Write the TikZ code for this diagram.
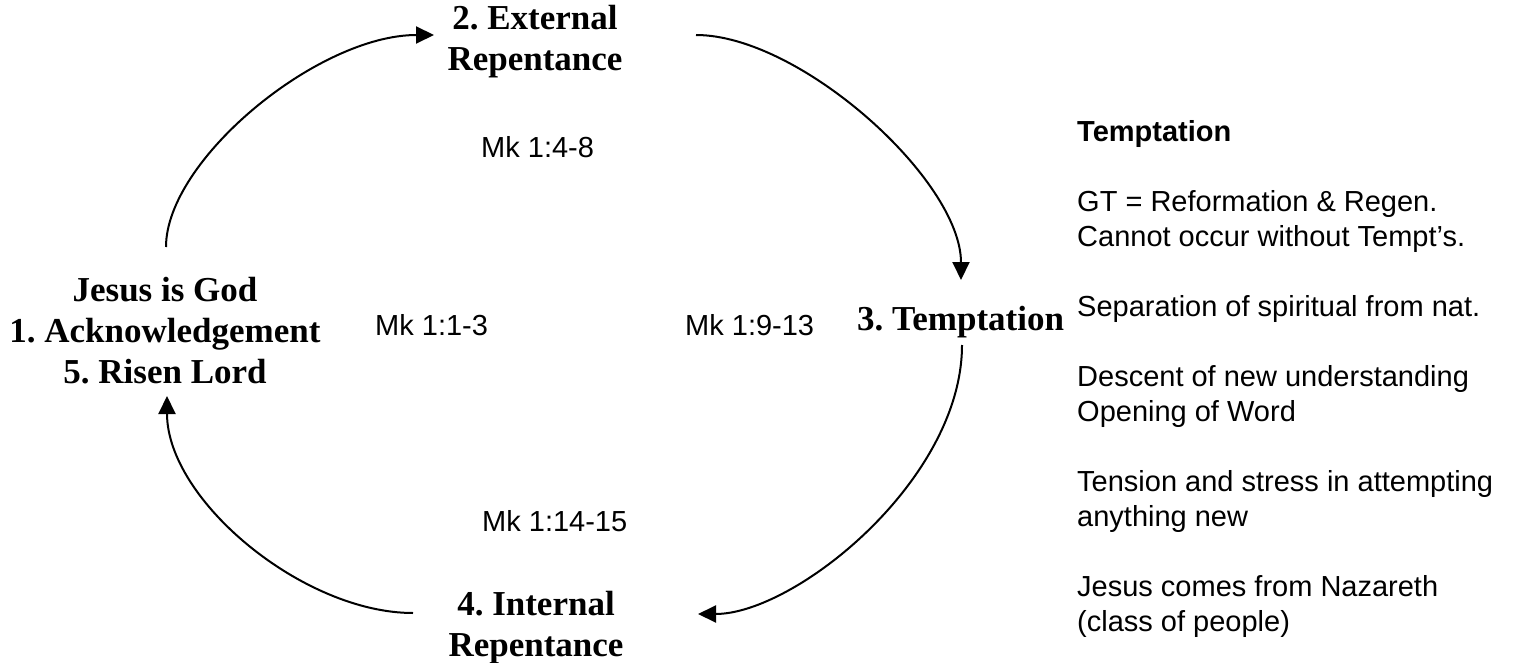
\documentclass[tikz,border=0pt]{standalone}
\usepackage{fontspec}
\setmainfont{Liberation Serif}
\setsansfont{Liberation Sans}
\usetikzlibrary{arrows.meta}
\frenchspacing
\begin{document}
\begin{tikzpicture}[x=1pt,y=-1pt,
  stage/.style={font=\fontsize{35}{41}\selectfont\bfseries, align=center, inner sep=0pt, anchor=base},
  ref/.style={font=\sffamily\fontsize{29}{35}\selectfont, inner sep=0pt, anchor=base west},
  cyc/.style={line width=2pt, -{Triangle[length=18pt,width=17pt]}}]
\fill[white] (0,0) rectangle (1515,663);
\useasboundingbox (0,0) rectangle (1515,663);
% stages
\node[stage] (ext) at (535,71) {2. External\\Repentance};
\node[stage] (ack) at (165,383) {Jesus is God\\1. Acknowledgement\\5. Risen Lord};
\node[stage, anchor=base west] (tem) at (857,330) {3. Temptation};
\node[stage] (int) at (536,656) {4. Internal\\Repentance};
% references
\node[ref] (mka) at (481,158) {Mk 1:4-8};
\node[ref] (mkb) at (375,335) {Mk 1:1-3};
\node[ref] (mkc) at (685,335) {Mk 1:9-13};
\node[ref] (mkd) at (482,531) {Mk 1:14-15};
% notes
\node[ref, align=left] (notes) at (1077,631) {\textbf{Temptation}\\[35pt]
GT = Reformation \& Regen.\\
Cannot occur without Tempt’s.\\[35pt]
Separation of spiritual from nat.\\[35pt]
Descent of new understanding\\
Opening of Word\\[35pt]
Tension and stress in attempting\\
anything new\\[35pt]
Jesus comes from Nazareth\\
(class of people)};
% connector end points
\coordinate (a1s) at (166,247);
\coordinate (a1e) at (434,35);
\coordinate (a2s) at (696,35);
\coordinate (a2e) at (961,280);
\coordinate (a3s) at (962,345);
\coordinate (a3e) at (698,614);
\coordinate (a4s) at (413,613);
\coordinate (a4e) at (167,396);
% cycle arrows
\draw[cyc] (a1s) .. controls (166,160) and (318,35) .. (a1e);
\draw[cyc] (a2s) .. controls (800,35) and (961,180) .. (a2e);
\draw[cyc] (a3s) .. controls (962,480) and (795,614) .. (a3e);
\draw[cyc] (a4s) .. controls (303,613) and (167,500) .. (a4e);
\end{tikzpicture}
\end{document}
